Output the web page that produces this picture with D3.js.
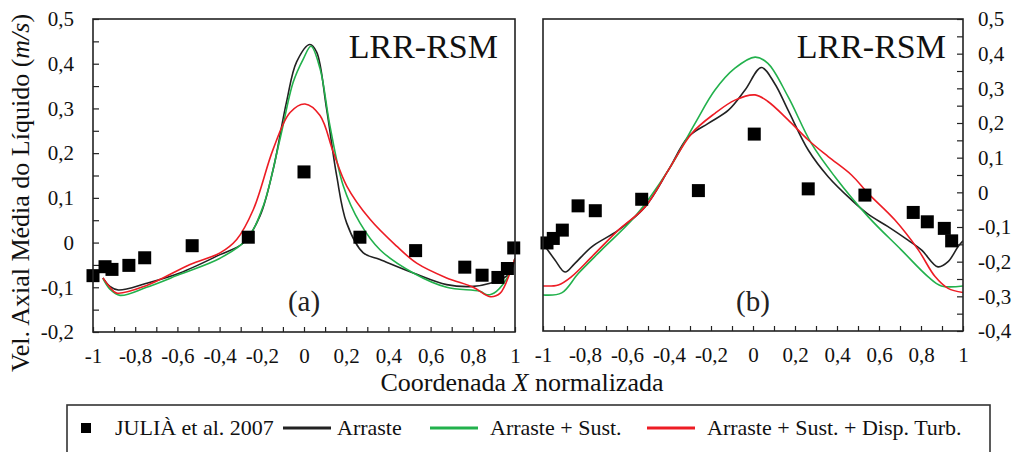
<!DOCTYPE html>
<html>
<head>
<meta charset="utf-8">
<script src="https://cdn.jsdelivr.net/npm/d3@7"></script>
<style>
  html, body { margin: 0; padding: 0; background: #fff; }
  svg { display: block; }
</style>
</head>
<body>
<svg id="chart" width="1014" height="452"></svg>
<script>
// ---------- DATA ----------
const xTicks = [-1, -0.8, -0.6, -0.4, -0.2, 0, 0.2, 0.4, 0.6, 0.8, 1];
const yTicksA = [-0.2, -0.1, 0, 0.1, 0.2, 0.3, 0.4, 0.5];
const yTicksB = [-0.4, -0.3, -0.2, -0.1, 0, 0.1, 0.2, 0.3, 0.4, 0.5];
const seriesNames = ["JULIÀ et al. 2007", "Arraste", "Arraste + Sust.", "Arraste + Sust. + Disp. Turb."];
const seriesColors = ["#000000", "#222222", "#22b14c", "#ed1c24"];

// Panel (a) – experimental (JULIÀ et al. 2007)
const expAX = [-1.0, -0.943, -0.91, -0.83, -0.755, -0.53, -0.264, 0.0, 0.265, 0.529, 0.762, 0.844, 0.919, 0.964, 0.994];
const expAY = [-0.074, -0.054, -0.06, -0.051, -0.034, -0.007, 0.012, 0.158, 0.012, -0.018, -0.055, -0.073, -0.078, -0.058, -0.012];
// Panel (a) – simulations
const aArraste = [[-0.953,-0.079],[-0.92,-0.098],[-0.88,-0.106],[-0.746,-0.091],[-0.588,-0.068],[-0.398,-0.027],[-0.288,-0.001],[-0.209,0.059],[-0.146,0.164],[-0.083,0.314],[-0.035,0.404],[0.028,0.443],[0.06,0.426],[0.107,0.299],[0.155,0.149],[0.202,0.044],[0.281,-0.023],[0.36,-0.038],[0.518,-0.068],[0.676,-0.094],[0.802,-0.098],[0.882,-0.091],[0.95,-0.078],[0.976,-0.068],[1.0,-0.035]];
const aSust = [[-0.953,-0.08],[-0.92,-0.104],[-0.872,-0.118],[-0.746,-0.1],[-0.588,-0.071],[-0.398,-0.035],[-0.272,0.007],[-0.193,0.082],[-0.114,0.231],[-0.051,0.359],[-0.003,0.411],[0.033,0.439],[0.076,0.389],[0.123,0.261],[0.186,0.127],[0.265,0.044],[0.36,-0.016],[0.518,-0.068],[0.676,-0.1],[0.834,-0.109],[0.87,-0.117],[0.912,-0.109],[0.976,-0.068],[1.0,-0.035]];
const aDisp = [[-0.953,-0.079],[-0.92,-0.1],[-0.888,-0.113],[-0.746,-0.096],[-0.54,-0.049],[-0.398,-0.023],[-0.319,0.007],[-0.24,0.074],[-0.146,0.209],[-0.066,0.291],[0.005,0.31],[0.076,0.284],[0.139,0.202],[0.202,0.127],[0.313,0.052],[0.439,-0.008],[0.534,-0.046],[0.676,-0.079],[0.802,-0.1],[0.882,-0.121],[0.93,-0.113],[0.976,-0.068],[1.0,-0.035]];

// Panel (b) – experimental
const expBX = [-0.981, -0.951, -0.908, -0.833, -0.751, -0.53, -0.26, 0.006, 0.263, 0.533, 0.763, 0.83, 0.911, 0.946];
const expBY = [-0.146, -0.133, -0.109, -0.039, -0.053, -0.02, 0.005, 0.168, 0.01, -0.008, -0.058, -0.085, -0.104, -0.14];
// Panel (b) – simulations
const bArraste = [[-1.0,-0.147],[-0.943,-0.195],[-0.895,-0.23],[-0.848,-0.205],[-0.768,-0.157],[-0.641,-0.109],[-0.514,-0.042],[-0.403,0.064],[-0.308,0.16],[-0.213,0.199],[-0.117,0.237],[-0.038,0.295],[0.04,0.36],[0.103,0.314],[0.167,0.237],[0.263,0.122],[0.358,0.045],[0.469,-0.022],[0.548,-0.063],[0.643,-0.099],[0.738,-0.138],[0.802,-0.166],[0.881,-0.215],[0.929,-0.2],[0.976,-0.157],[1.0,-0.14]];
const bSust = [[-1.0,-0.296],[-0.911,-0.29],[-0.832,-0.234],[-0.721,-0.166],[-0.562,-0.07],[-0.403,0.064],[-0.276,0.199],[-0.181,0.295],[-0.086,0.358],[0.01,0.39],[0.071,0.372],[0.167,0.276],[0.278,0.141],[0.39,0.045],[0.548,-0.07],[0.706,-0.166],[0.833,-0.243],[0.897,-0.27],[1.0,-0.27]];
const bDisp = [[-1.0,-0.27],[-0.927,-0.267],[-0.864,-0.243],[-0.768,-0.186],[-0.641,-0.109],[-0.514,-0.042],[-0.403,0.064],[-0.292,0.17],[-0.181,0.228],[-0.086,0.266],[0.01,0.281],[0.071,0.262],[0.167,0.209],[0.263,0.151],[0.358,0.103],[0.469,0.05],[0.548,-0.003],[0.676,-0.08],[0.787,-0.166],[0.867,-0.243],[0.929,-0.277],[1.0,-0.289]];

// ---------- DRAW ----------
const FONT = "'Liberation Serif'";
const svg = d3.select("#chart");
const fmt = v => {
  const r = Math.round(v * 10) / 10;
  if (Math.abs(r) < 1e-9) return "0";
  const s = Math.abs(r).toFixed(Math.abs(r) === 1 ? 0 : 1).replace(".", ",");
  return (r < 0 ? "-" : "") + s;
};
const styleText = (sel, size, fill) => sel.attr("font-family", null).style("font-family", FONT)
  .style("font-size", size + "px").style("fill", fill || "#111");

function panel(cfg) {
  const x = d3.scaleLinear().domain([-1, 1]).range([cfg.x0, cfg.x1]);
  const y = d3.scaleLinear().domain(cfg.yDomain).range([cfg.y1, cfg.y0]);
  const g = svg.append("g");

  // x axis (bottom, ticks inward)
  const xa = d3.axisBottom(x)
    .tickValues(d3.range(-1, 1.0001, 0.1))
    .tickSize(-5).tickPadding(16)
    .tickFormat(v => xTicks.some(t => Math.abs(t - v) < 1e-6) ? fmt(v) : "");
  const gx = g.append("g").attr("transform", `translate(0,${cfg.y1})`).call(xa);
  gx.attr("font-family", null).attr("font-size", null);
  gx.select(".domain").remove();
  gx.selectAll("line").attr("stroke", "#222").attr("stroke-width", 1.2);
  styleText(gx.selectAll("text"), 21);

  // y axis (ticks inward)
  const yv = d3.range(cfg.yDomain[0], cfg.yDomain[1] + 0.0001, 0.05);
  const ya = (cfg.side === "left" ? d3.axisLeft(y) : d3.axisRight(y))
    .tickValues(yv).tickSize(-6).tickPadding(cfg.side === "left" ? 19 : 15)
    .tickFormat(v => cfg.yTicks.some(t => Math.abs(t - v) < 1e-6) ? fmt(v) : "");
  const gy = g.append("g")
    .attr("transform", `translate(${cfg.side === "left" ? cfg.x0 : cfg.x1},0)`).call(ya);
  gy.attr("font-family", null).attr("font-size", null);
  gy.select(".domain").remove();
  gy.selectAll("line").attr("stroke", "#222").attr("stroke-width", 1.2);
  styleText(gy.selectAll("text"), 21);

  // clip
  const clipId = "clip" + cfg.id;
  svg.append("clipPath").attr("id", clipId).append("rect")
    .attr("x", cfg.x0).attr("y", cfg.y0).attr("width", cfg.x1 - cfg.x0).attr("height", cfg.y1 - cfg.y0);

  const line = d3.line().x(d => x(d[0])).y(d => y(d[1])).curve(d3.curveCatmullRom.alpha(0.5));
  const curves = [[cfg.arr, seriesColors[1]], [cfg.sust, seriesColors[2]], [cfg.disp, seriesColors[3]]];
  const gc = g.append("g").attr("clip-path", `url(#${clipId})`);
  gc.selectAll("path.curve").data(curves).join("path")
    .attr("class", "curve")
    .attr("d", d => line(d[0]))
    .attr("fill", "none").attr("stroke", d => d[1]).attr("stroke-width", 1.6);

  // experimental squares
  const pts = cfg.ex.map((v, i) => [v, cfg.ey[i]]);
  const s = 13;
  g.append("g").selectAll("rect").data(pts).join("rect")
    .attr("x", d => x(d[0]) - s / 2).attr("y", d => y(d[1]) - s / 2)
    .attr("width", s).attr("height", s).attr("fill", "#000");

  // frame
  g.append("rect").attr("x", cfg.x0).attr("y", cfg.y0)
    .attr("width", cfg.x1 - cfg.x0).attr("height", cfg.y1 - cfg.y0)
    .attr("fill", "none").attr("stroke", "#222").attr("stroke-width", 1.6);

  // labels
  styleText(g.append("text").attr("x", cfg.x1 - 17).attr("y", 58).attr("text-anchor", "end"), 34, "#111")
    .text("LRR-RSM");
  styleText(g.append("text").attr("x", x(0)).attr("y", 311).attr("text-anchor", "middle"), 29, "#222")
    .text(cfg.tag);
}

panel({ id: "A", x0: 93, x1: 515, y0: 19, y1: 332, yDomain: [-0.2, 0.5], yTicks: yTicksA, side: "left",
  arr: aArraste, sust: aSust, disp: aDisp, ex: expAX, ey: expAY, tag: "(a)" });
panel({ id: "B", x0: 543, x1: 963, y0: 19, y1: 331, yDomain: [-0.4, 0.5], yTicks: yTicksB, side: "right",
  arr: bArraste, sust: bSust, disp: bDisp, ex: expBX, ey: expBY, tag: "(b)" });

// axis titles
const xt = styleText(svg.append("text").attr("x", 522).attr("y", 391).attr("text-anchor", "middle"), 26);
xt.append("tspan").text("Coordenada ");
xt.append("tspan").style("font-style", "italic").text("X");
xt.append("tspan").text(" normalizada");

const yt = styleText(svg.append("text").attr("transform", "translate(29,193) rotate(-90)")
  .attr("text-anchor", "middle"), 26);
yt.append("tspan").text("Vel. Axial Média do Líquido (");
yt.append("tspan").style("font-style", "italic").text("m/s");
yt.append("tspan").text(")");

// legend
const lg = svg.append("g");
lg.append("rect").attr("x", 67).attr("y", 405).attr("width", 923).attr("height", 70)
  .attr("fill", "#fff").attr("stroke", "#333").attr("stroke-width", 1.6);
const ly = 428;
lg.append("rect").attr("x", 81).attr("y", ly - 5).attr("width", 10).attr("height", 10).attr("fill", seriesColors[0]);
const lineX = [null, 283, 430, 647];
const textX = [115, 337, 490, 707];
seriesNames.forEach((n, i) => {
  if (i > 0) {
    lg.append("line").attr("x1", lineX[i]).attr("x2", lineX[i] + 48).attr("y1", ly).attr("y2", ly)
      .attr("stroke", seriesColors[i]).attr("stroke-width", 3);
  }
  styleText(lg.append("text").attr("x", textX[i]).attr("y", ly).attr("dy", "0.33em"), 22).text(n);
});
</script>
</body>
</html>
